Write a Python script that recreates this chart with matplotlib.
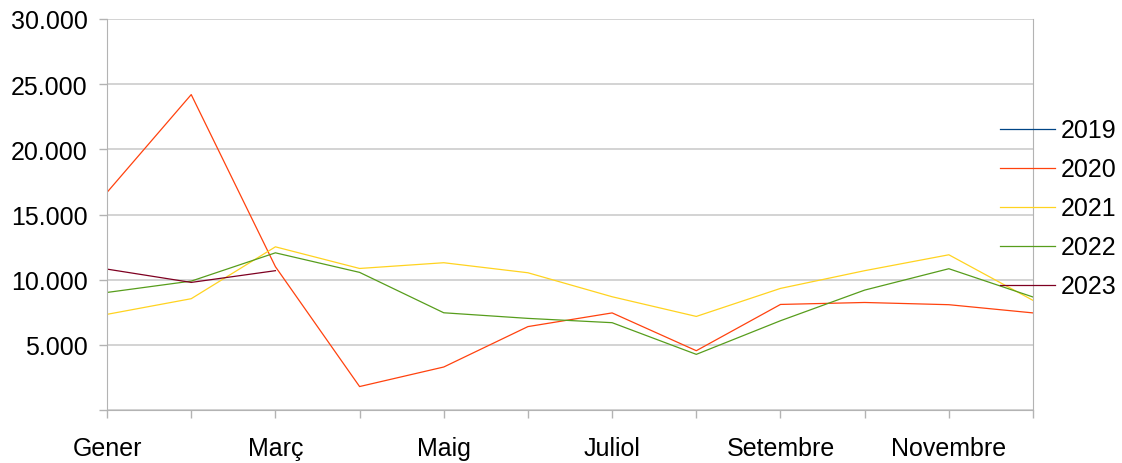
import numpy as np
import matplotlib
matplotlib.use("Agg")
import matplotlib.pyplot as plt
from matplotlib.ticker import FuncFormatter

plt.rcParams['font.family'] = ['Liberation Sans', 'DejaVu Sans']

months = ["Gener", "Febrer", "Març", "Abril", "Maig", "Juny", "Juliol",
          "Agost", "Setembre", "Octubre", "Novembre", "Desembre"]
years = ["2019", "2020", "2021", "2022", "2023"]
colors = ["#004586", "#ff420e", "#ffd320", "#579d1c", "#7e0021"]

v2019 = []
v2020 = [16700, 24200, 11000, 1800, 3300, 6400, 7450, 4550, 8100, 8250, 8080, 7450]
v2021 = [7340, 8540, 12520, 10860, 11300, 10530, 8690, 7180, 9330, 10690, 11910, 8410]
v2022 = [9020, 9890, 12060, 10560, 7460, 7030, 6700, 4270, 6850, 9200, 10840, 8670]
v2023 = [10810, 9790, 10690]
series = [v2019, v2020, v2021, v2022, v2023]

fig = plt.figure(figsize=(11.22, 4.64), dpi=100)
ax = fig.add_axes([0.0954, 0.1142, 0.9207 - 0.0954, 0.9569 - 0.1142])

x = np.arange(len(months))
for name, vals, c in zip(years, series, colors):
    ax.plot(x[:len(vals)], vals, color=c, lw=0.9, label=name)

ax.set_xlim(0, len(months) - 1)
ax.set_ylim(0, 30000)
ax.set_yticks(np.arange(0, 30001, 5000))
ax.yaxis.set_major_formatter(FuncFormatter(
    lambda v, p: "" if v == 0 else f"{int(v):,}".replace(",", ".")))
ax.set_xticks(x)
ax.set_xticklabels([m if i % 2 == 0 else "" for i, m in enumerate(months)])

ax.grid(axis="y", color="#d0d0d0", lw=1.3)
ax.set_axisbelow(True)
for s in ["left", "bottom", "right"]:
    ax.spines[s].set_color("#b3b3b3")
ax.spines["top"].set_visible(False)
ax.tick_params(axis="both", colors="#b3b3b3", labelcolor="black", labelsize=18,
               length=6, width=1)
ax.tick_params(axis="x", pad=13)
ax.tick_params(axis="y", pad=8)

fig.legend(loc="center left", bbox_to_anchor=(0.891, 0.549), frameon=False,
           fontsize=18, handlelength=2.2, handletextpad=0.25, labelspacing=0.6,
           borderpad=0, borderaxespad=0)

fig.savefig("out.png", dpi=100)
